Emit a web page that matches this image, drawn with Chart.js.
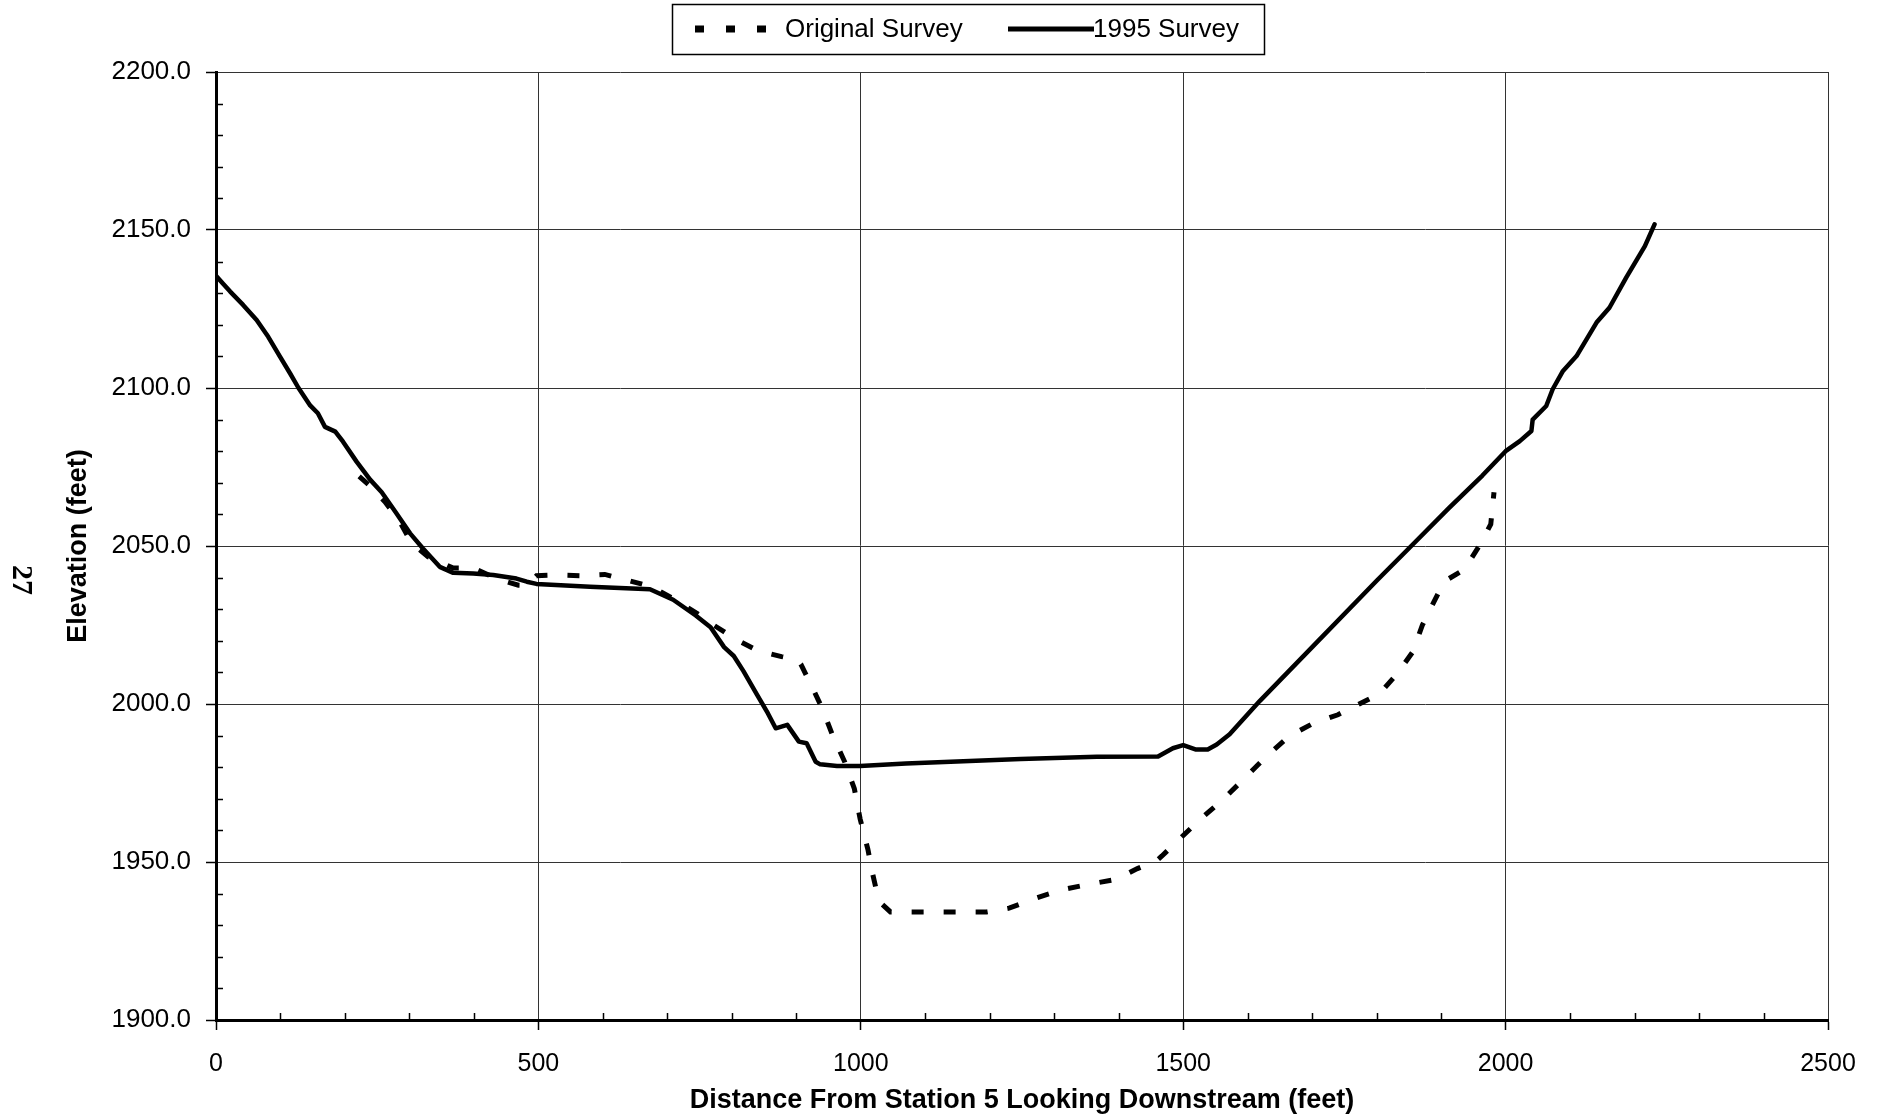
<!DOCTYPE html>
<html>
<head>
<meta charset="utf-8">
<title>Station 5 Cross Section</title>
<script src="https://cdn.jsdelivr.net/npm/chart.js@4.4.0/dist/chart.umd.min.js"></script>
<style>
  html, body { margin: 0; padding: 0; background: #fff; }
  .chart-wrap { position: relative; width: 1883px; height: 1120px; }
</style>
</head>
<body>
<div class="chart-wrap"><canvas id="section-chart"></canvas></div>
<script>
const seriesLabels = ['Original Survey', '1995 Survey'];

// original survey: distance (ft) / elevation (ft)
const originalDist = [222, 239, 262, 285, 303, 329, 368, 399, 435, 469, 482, 497, 528, 567, 603, 637, 676, 712, 747, 773,
    806, 841, 877, 901, 907, 924, 940, 957, 975, 990, 999, 1011, 1018, 1028, 1046, 1195, 1230, 1272, 1313, 1361,
    1396, 1429, 1458, 1467, 1495, 1528, 1564, 1598, 1632, 1665, 1701, 1740, 1773, 1804, 1832, 1856, 1871, 1889, 1905, 1936,
    1959, 1977, 1982];
const originalElev = [2072, 2069, 2064, 2057.7, 2051, 2046.6, 2043, 2043, 2039.7, 2037.6, 2037.5, 2040.6, 2040.8, 2040.6, 2041, 2039.2, 2037.1, 2033, 2028.5, 2024.8,
    2020.5, 2016.8, 2015, 2014.1, 2012.6, 2005.6, 1998.7, 1989.7, 1981.7, 1973.2, 1963.6, 1954, 1946.6, 1937.6, 1934.2, 1934.2, 1935.4, 1938.6, 1941.3, 1943.2,
    1944.5, 1947.9, 1950.3, 1951.9, 1957.4, 1963.8, 1970.2, 1977.1, 1984, 1989.9, 1993.8, 1996.6, 2000, 2003.2, 2009.6, 2016.5, 2025, 2032.4, 2038.8, 2042.6,
    2050, 2056.9, 2067];

// 1995 survey: distance (ft) / elevation (ft)
const survey1995Dist = [0, 11, 22, 42, 63, 81, 99, 115, 128, 146, 158, 169, 185, 197, 218, 239, 257, 280, 301, 321,
    347, 368, 399, 430, 466, 482, 497, 580, 673, 709, 744, 767, 788, 803, 818, 839, 856, 868, 886, 904,
    916, 930, 937, 963, 999, 1070, 1159, 1248, 1366, 1461, 1484, 1500, 1520, 1538, 1552, 1572, 1619, 1700, 1800, 1861,
    1912, 1964, 2000, 2022, 2040, 2042, 2063, 2073, 2089, 2110, 2141, 2161, 2187, 2216, 2231];
const survey1995Elev = [2135.5, 2133, 2130.5, 2126.3, 2121.5, 2116.2, 2110, 2104.6, 2100, 2094.5, 2092, 2087.7, 2086.2, 2083, 2076.7, 2071, 2067, 2060.3, 2054, 2049.2,
    2043.4, 2041.5, 2041.3, 2040.8, 2039.7, 2038.7, 2038, 2037.1, 2036.3, 2033, 2028, 2024.3, 2018, 2015.2, 2010.4, 2003, 1997, 1992.3, 1993.4, 1988.1,
    1987.6, 1981.7, 1980.9, 1980.4, 1980.4, 1981.2, 1981.9, 1982.6, 1983.3, 1983.4, 1986, 1987, 1985.6, 1985.6, 1987.2, 1990.4, 2001, 2018, 2039, 2051.5,
    2062, 2072.3, 2080, 2083.2, 2086.4, 2090, 2094.3, 2099.6, 2105.4, 2110.1, 2120.7, 2125.4, 2134.9, 2144.9, 2151.8];

const xTicks = [0, 500, 1000, 1500, 2000, 2500];
const yTicks = [1900, 1950, 2000, 2050, 2100, 2150, 2200];
const xMinorStep = 100;
const yMinorStep = 10;

const FONT = "'Liberation Sans', Arial, sans-serif";

function toPoints(xs, ys) {
    return xs.map((x, i) => ({ x: x, y: ys[i] }));
}

// inner minor ticks, legend box and the page number
const sheetExtras = {
    id: 'sheetExtras',
    afterDraw(chart) {
        const { ctx, chartArea, scales } = chart;
        ctx.save();

        ctx.strokeStyle = '#000';
        ctx.lineWidth = 1.5;
        ctx.beginPath();
        for (let v = yTicks[0]; v <= yTicks[yTicks.length - 1]; v += yMinorStep) {
            if (yTicks.includes(v)) continue;
            const y = Math.round(scales.y.getPixelForValue(v)) + 0.5;
            ctx.moveTo(chartArea.left, y);
            ctx.lineTo(chartArea.left + 7, y);
        }
        for (let v = xTicks[0]; v <= xTicks[xTicks.length - 1]; v += xMinorStep) {
            if (xTicks.includes(v)) continue;
            const x = Math.round(scales.x.getPixelForValue(v)) + 0.5;
            ctx.moveTo(x, chartArea.bottom);
            ctx.lineTo(x, chartArea.bottom - 7);
        }
        ctx.stroke();

        // legend
        ctx.lineWidth = 1.5;
        ctx.strokeStyle = '#000';
        ctx.strokeRect(672.5, 4.5, 592, 50);

        const ds = chart.data.datasets;
        const rowY = 29;
        ctx.font = '26px ' + FONT;
        ctx.fillStyle = '#000';
        ctx.textBaseline = 'middle';

        ctx.lineWidth = 7;
        ctx.setLineDash([9, 22]);
        ctx.beginPath();
        ctx.moveTo(695, rowY);
        ctx.lineTo(767, rowY);
        ctx.stroke();
        ctx.setLineDash([]);
        ctx.fillText(ds[0].label, 785, rowY + 1);

        ctx.lineWidth = ds[1].borderWidth + 0.5;
        ctx.beginPath();
        ctx.moveTo(1008, rowY);
        ctx.lineTo(1094, rowY);
        ctx.stroke();
        ctx.fillText(ds[1].label, 1093, rowY + 1);

        // page number printed sideways in the margin
        ctx.translate(21, 580);
        ctx.rotate(Math.PI / 2);
        ctx.font = "bold 30px 'Liberation Serif', 'Times New Roman', serif";
        ctx.textAlign = 'center';
        ctx.fillText('27', 0, 0);

        ctx.restore();
    }
};

document.addEventListener('DOMContentLoaded', () => {
    const ctx = document.getElementById('section-chart').getContext('2d');
    new Chart(ctx, {
        type: 'line',
        data: {
            datasets: [{
                label: seriesLabels[0],
                data: toPoints(originalDist, originalElev),
                borderColor: '#000',
                borderWidth: 5,
                borderDash: [12, 20],
                borderCapStyle: 'butt',
                pointRadius: 0,
                tension: 0,
                order: 1
            }, {
                label: seriesLabels[1],
                data: toPoints(survey1995Dist, survey1995Elev),
                borderColor: '#000',
                borderWidth: 4.5,
                borderJoinStyle: 'round',
                borderCapStyle: 'round',
                pointRadius: 0,
                tension: 0,
                order: 0
            }]
        },
        options: {
            responsive: true,
            maintainAspectRatio: false,
            animation: false,
            layout: { padding: { top: 72, right: 55, bottom: 0, left: 0 } },
            plugins: {
                legend: { display: false },
                tooltip: { enabled: false }
            },
            scales: {
                x: {
                    type: 'linear',
                    min: xTicks[0],
                    max: xTicks[xTicks.length - 1],
                    afterFit: scale => { scale.height = 100; },
                    ticks: {
                        stepSize: xTicks[1] - xTicks[0],
                        color: '#000',
                        padding: 19,
                        maxRotation: 0,
                        font: { family: FONT, size: 25 },
                        callback: value => String(value)
                    },
                    grid: { color: '#333', lineWidth: 1, tickLength: 10, tickColor: '#000', tickWidth: 1.5 },
                    border: { color: '#000', width: 3 },
                    title: {
                        display: true,
                        text: 'Distance From Station 5 Looking Downstream (feet)',
                        color: '#000',
                        font: { family: FONT, size: 27, weight: 'bold' },
                        padding: { top: 0, bottom: 3 }
                    }
                },
                y: {
                    type: 'linear',
                    min: yTicks[0],
                    max: yTicks[yTicks.length - 1],
                    afterFit: scale => { scale.width = 216; },
                    ticks: {
                        stepSize: yTicks[1] - yTicks[0],
                        color: '#000',
                        padding: 15,
                        font: { family: FONT, size: 26 },
                        callback: value => value.toFixed(1)
                    },
                    grid: { color: '#333', lineWidth: 1, tickLength: 10, tickColor: '#000', tickWidth: 1.5 },
                    border: { color: '#000', width: 3 },
                    title: {
                        display: true,
                        text: 'Elevation (feet)',
                        color: '#000',
                        font: { family: FONT, size: 27, weight: 'bold' },
                        padding: { top: 62, bottom: 0 }
                    }
                }
            }
        },
        plugins: [sheetExtras]
    });
});
</script>
</body>
</html>
